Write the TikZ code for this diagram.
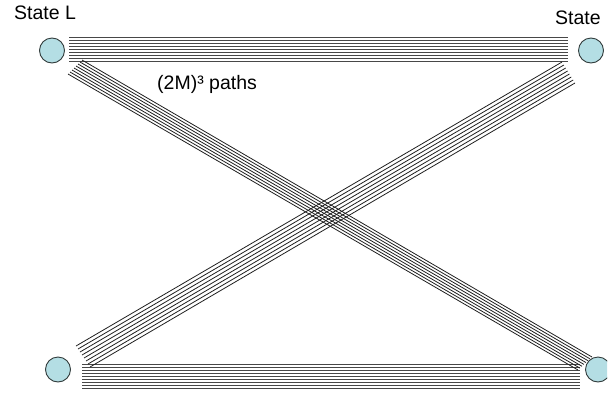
\documentclass[tikz,border=0pt]{standalone}
\usepackage{fontspec}
\setmainfont{Liberation Sans}
\usetikzlibrary{calc}
\definecolor{statefill}{RGB}{180,222,228}
\definecolor{stateline}{RGB}{50,60,60}
\begin{document}
\begin{tikzpicture}[x=1pt,y=-1pt,
  state/.style={circle,draw=stateline,fill=statefill,line width=0.9pt,minimum size=25pt,inner sep=0pt},
  hwire/.style={line width=0.8pt,draw=black!72},
  dwire/.style={line width=0.8pt,draw=black!88},
  lbl/.style={anchor=base west,inner sep=0pt,font=\fontsize{19.5}{19.5}\selectfont}]
\useasboundingbox (0,0) rectangle (613,394);
\begin{scope}
\clip (0,0) rectangle (607,394);
\node[state] (sTL) at (52,50.5) {};
\node[state] (sTR) at (591,50.5) {};
\node[state] (sBL) at (58,369.5) {};
\node[state] (sBR) at (598,369.5) {};
% top horizontal bundle
\coordinate (hta) at (69,37.5);
\coordinate (htb) at (69,61);
\coordinate (htc) at (568,37.5);
\coordinate (htd) at (568,61);
\foreach \i in {0,...,8} \draw[hwire] ($(hta)!\i/8!(htb)$) -- ($(htc)!\i/8!(htd)$);
% bottom horizontal bundle
\coordinate (hba) at (82,364);
\coordinate (hbb) at (82,388);
\coordinate (hbc) at (580,364);
\coordinate (hbd) at (580,388);
\foreach \i in {0,...,8} \draw[hwire] ($(hba)!\i/8!(hbb)$) -- ($(hbc)!\i/8!(hbd)$);
% diagonal TL -> BR
\coordinate (da) at (82,60);
\coordinate (db) at (68,74);
\coordinate (dc) at (592,357);
\coordinate (dd) at (578,370);
\foreach \i in {0,...,7} \draw[dwire] ($(da)!\i/7!(db)$) -- ($(dc)!\i/7!(dd)$);
% diagonal TR -> BL
\coordinate (ea) at (562,62);
\coordinate (eb) at (575,83);
\coordinate (ec) at (76,346);
\coordinate (ed) at (90,367);
\foreach \i in {0,...,7} \draw[dwire] ($(ea)!\i/7!(eb)$) -- ($(ec)!\i/7!(ed)$);
\node[lbl] (tL) at (14,19.5) {State L};
\node[lbl] (tR) at (555,24) {State};
\node[lbl] (tP) at (157,89) {(2M)³ paths};
\end{scope}
\end{tikzpicture}
\end{document}
